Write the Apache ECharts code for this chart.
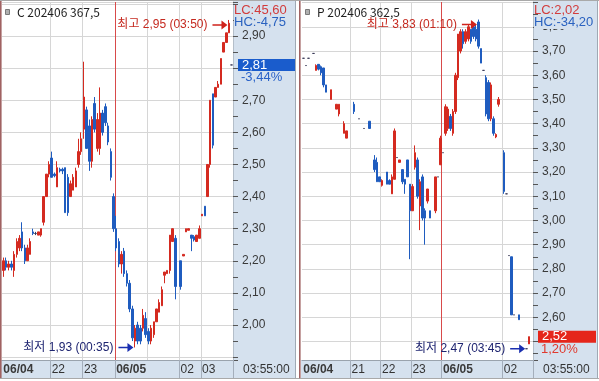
<!DOCTYPE html>
<html><head><meta charset="utf-8">
<script src="https://cdn.jsdelivr.net/npm/echarts@6/dist/echarts.min.js"></script>
<style>html,body{margin:0;padding:0;background:#fff}#c{width:599px;height:381px}</style>
</head><body><div id="c"></div>
<script>
// ---------- LEFT PANEL (C 202406 367,5) ----------
const leftTimes = ['20:30','20:35','20:40','20:45','20:50','20:55','21:00','21:05','21:10','21:15','21:20','21:25','21:30','21:35','21:40','21:45','21:50','21:55',
'22:00','22:05','22:10','22:15','22:20','22:25','22:30','22:35','22:40','22:45','22:50','22:55',
'23:00','23:05','23:10','23:15','23:20','23:25','23:30','23:35','23:40','23:45','23:50','23:55',
'00:00','00:05','00:10','00:15','00:20','00:25','00:30','00:35','00:40','00:45','00:50','00:55',
'01:00','01:05','01:10','01:15','01:20','01:25','01:30','01:35','01:40','01:45','01:50','01:55',
'02:00','02:05','02:10','02:20','02:30','02:40','02:50','02:55',
'03:00','03:05','03:10','03:15','03:20','03:25','03:30','03:35','03:40','03:45','03:50','03:55'];
const leftOpen = [2.17,2.20,2.18,2.19,2.17,2.22,2.24,2.29,2.24,2.20, 2.22,2.29,2.285,2.28,2.28,2.32,2.40,2.47,2.52,2.47, 2.43,2.485,2.485,2.49,2.46,2.40,2.42,2.43,2.50,2.54, 2.61,2.67,2.62,2.51,2.69,2.55,2.55,2.66,2.68,2.62, 2.54,2.40,2.30,2.26,2.19,2.23,2.16,2.13,2.05,1.95, 2.00,1.99,1.99,2.02,1.98,1.95,1.97,2.01,2.04,2.06, 2.155,2.16,2.17,2.26,2.27,null,2.20,2.215,2.29,2.295, 2.28,2.275,2.26,2.27,2.34,2.37,2.40,2.50,2.72,2.71, 2.74,2.75,2.85,2.88,2.91,2.81];
const leftClose = [2.20,2.18,2.19,2.18,2.22,2.26,2.27,2.24,2.20,2.24, 2.26,2.285,2.285,2.29,2.30,2.40,2.47,2.50,2.46,2.465, 2.49,2.48,2.48,2.35,2.35,2.44,2.46,2.48,2.54,2.58, 2.71,2.55,2.51,2.64,2.61,2.64,2.66,2.60,2.63,2.57, 2.46,2.30,2.24,2.19,2.22,2.16,2.13,2.05,1.96,1.99, 1.95,1.95,2.03,1.97,1.95,1.99,2.01,2.05,2.07,2.11, 2.165,2.17,2.28,2.30,2.12,null,2.12,2.22,2.30,2.30, 2.27,2.265,2.28,2.30,2.345,2.34,2.50,2.70,2.56,2.74, 2.75,2.83,2.88,2.91,2.94,2.81];
const leftLow = [2.15,2.17,2.17,2.17,2.15,2.21,2.23,2.23,2.19,2.20, 2.22,2.28,2.28,2.28,2.275,2.31,2.40,2.46,2.46,2.46, 2.43,2.475,2.47,2.35,2.34,2.40,2.42,2.43,2.49,2.53, 2.58,2.55,2.48,2.49,2.60,2.54,2.53,2.59,2.62,2.56, 2.45,2.29,2.23,2.18,2.16,2.15,2.12,2.04,1.95,1.93, 1.94,1.94,1.98,1.96,1.94,1.94,1.96,2.01,2.04,2.06, 2.13,2.16,2.16,2.26,2.08,null,2.11,2.215,2.29,2.295, 2.23,2.26,2.26,2.27,2.34,2.34,2.40,2.49,2.55,2.71, 2.74,2.75,2.85,2.88,2.91,2.81];
const leftHigh = [2.21,2.21,2.20,2.20,2.23,2.27,2.28,2.32,2.25,2.25, 2.27,2.30,2.29,2.29,2.30,2.40,2.47,2.51,2.54,2.475, 2.51,2.49,2.49,2.49,2.47,2.45,2.47,2.49,2.58,2.60, 2.82,2.68,2.64,2.65,2.71,2.66,2.74,2.67,2.69,2.63, 2.55,2.41,2.34,2.27,2.23,2.24,2.17,2.14,2.06,2.00, 2.01,2.00,2.05,2.04,1.99,2.00,2.01,2.05,2.08,2.12, 2.165,2.17,2.28,2.30,2.28,null,2.20,2.22,2.30,2.30, 2.28,2.28,2.28,2.31,2.345,2.37,2.50,2.70,2.72,2.74, 2.76,2.83,2.88,2.91,2.95,2.81];
const leftLabelTimes = ['20:30','22:00','23:00','00:00','02:00','03:00'];
const leftLabelTexts = ['06/04','22','23','06/05','02','03'];
const leftGridTimes = ['22:00','23:00','00:00','01:00','02:00','03:00'];
const leftYRange = [1.891, 3.006];
const leftYLabelRange = [2.0, 2.9];
const leftTitle = 'C 202406 367,5';
const leftLC = 'LC:45,60', leftHC = 'HC:-4,75';
const leftLast = 2.81, leftChange = -3.44;
const leftHighPt = ['03:50', 2.95], leftLowPt = ['00:35', 1.93];

// ---------- RIGHT PANEL (P 202406 362,5) ----------
const rightTimes = ['19:25','19:30','19:35','19:40','19:45','19:50','19:55','20:00','20:05','20:10','20:15','20:20','20:25','20:30','20:35','20:40','20:45','20:50','20:55',
'21:00','21:05','21:10','21:15','21:20','21:25','21:30','21:35','21:40','21:45','21:50','21:55',
'22:00','22:05','22:10','22:15','22:20','22:25','22:30','22:35','22:40','22:45','22:50','22:55',
'23:00','23:05','23:10','23:15','23:20','23:25','23:30','23:35','23:40','23:45','23:50','23:55',
'00:00','00:05','00:10','00:15','00:20','00:25','00:30','00:35','00:40','00:45','00:50','00:55',
'01:00','01:05','01:10','01:15','01:20','01:25','01:30','01:35','01:40','01:45','01:50','01:55',
'02:00','02:05','02:10','02:15','02:25','02:40','02:55','03:15','03:30','03:45','03:50','03:55'];
const rightOpen = [3.67,3.64,3.67,null,3.69,3.62,3.645,3.635,3.63,3.56, null,3.50,null,3.46,3.44,null,3.36,3.34,null,null, 3.48,null,3.42,null,3.38,null,3.41,null,3.25,3.24, 3.18,3.145,null,3.20,3.165,3.11,3.17,3.26,3.24,3.21, 3.17,3.25,3.15,3.04,3.22,3.25,3.06,3.18,3.04,3.08, 3.04,null,3.04,3.18,3.23,3.28,3.36,3.38,3.43,3.36, 3.45,3.59,3.70,3.78,3.74,3.75,3.79,3.80,3.79,3.82, 3.71,3.62,3.59,3.57,3.42,3.42,3.345,3.48,null,3.28, 3.11,2.855,2.85,2.61,null,2.61,null,null,2.47,2.49,null];
const rightClose = [3.67,3.64,3.67,null,3.69,3.64,3.625,3.61,3.56,3.53, null,3.54,null,3.48,3.48,null,3.40,3.37,null,null, 3.45,null,3.42,null,3.38,null,3.38,null,3.21,3.16, 3.16,3.165,null,3.15,3.15,3.18,3.37,3.26,3.25,3.16, 3.15,3.18,3.04,3.14,3.28,3.10,3.16,3.01,3.01,3.13, 3.01,null,3.18,3.18,3.34,3.28,3.47,3.46,3.38,3.45, 3.60,3.77,3.78,3.73,3.78,3.80,3.74,3.76,3.75,3.72, 3.65,3.62,3.44,3.42,3.56,3.36,3.355,3.50,null,3.12, 3.11,2.855,2.61,2.61,null,2.59,null,null,2.47,2.52,null];
const rightLow = [3.67,3.64,3.67,null,3.69,3.62,3.62,3.60,3.55,3.53, null,3.50,null,3.46,3.43,null,3.36,3.34,null,null, 3.44,null,3.42,null,3.38,null,3.38,null,3.20,3.16, 3.16,3.14,null,3.15,3.15,3.11,3.17,3.26,3.24,3.15, 3.11,3.18,2.84,3.04,3.21,3.09,2.96,3.00,2.90,3.07, 3.01,null,3.03,3.18,3.23,3.28,3.35,3.37,3.37,3.35, 3.44,3.58,3.69,3.71,3.73,3.74,3.73,3.75,3.74,3.71, 3.65,3.62,3.43,3.41,3.41,3.35,3.34,3.47,null,3.11, 3.11,2.855,2.61,2.61,null,2.59,null,null,2.47,2.49,null];
const rightHigh = [3.67,3.64,3.67,null,3.69,3.645,3.645,3.64,3.63,3.56, null,3.54,null,3.48,3.48,null,3.41,3.37,null,null, 3.49,null,3.42,null,3.38,null,3.41,null,3.27,3.26, 3.18,3.17,null,3.20,3.17,3.19,3.38,3.26,3.25,3.21, 3.17,3.25,3.15,3.15,3.31,3.26,3.17,3.19,3.05,3.13, 3.04,null,3.18,3.18,3.35,3.28,3.48,3.47,3.44,3.46, 3.61,3.77,3.79,3.79,3.79,3.81,3.79,3.81,3.81,3.83, 3.71,3.62,3.60,3.58,3.57,3.43,3.36,3.51,null,3.29, 3.11,2.855,2.85,2.61,null,2.61,null,null,2.47,2.52,null];
const rightLabelTimes = ['19:25','21:00','22:00','23:00','00:00','02:00'];
const rightLabelTexts = ['06/04','21','22','23','06/05','02'];
const rightGridTimes = ['21:00','22:00','23:00','00:00','02:00'];
const rightYRange = [2.4235, 3.9025];
const rightYLabelRange = [2.6, 3.8];
const rightTitle = 'P 202406 362,5';
const rightLC = 'LC:2,02', rightHC = 'HC:-34,20';
const rightLast = 2.52, rightChange = 1.20;
const rightHighPt = ['01:10', 3.83], rightLowPt = ['03:45', 2.47];
const clockText = '03:55:00';

// ---------- styling ----------
const UP = '#d42a20', DOWN = '#1f5cbf', DOJI = '#3c3c5a';
const BAND = '#d5e1ee', GRID = '#d6d6d6', DAYLINE = '#d84a4a';
const NUMFONT = '"Liberation Sans","Noto Sans CJK KR",sans-serif';
const KRFONT = '"Liberation Sans","Noto Sans CJK KR",sans-serif';
const fmt = v => v.toFixed(2).replace('.', ',');
const ARROW = 'path://M0,3.8 L9,3.8 L9,0 L15,4.5 L9,9 L9,5.2 L0,5.2 Z';

function ohlc(o, c, l, h) { return o.map((v, i) => v == null ? '-' : [v, c[i], l[i], h[i]]); }

function panel(k, times, data, labelTimes, labelTexts, gridTimes, yRange, yLabRange, last, change, hiPt, loPt) {
  const labelMap = {};
  labelTimes.forEach((t, i) => labelMap[t] = labelTexts[i]);
  const splitColors = gridTimes.map(t => t === '00:00' ? DAYLINE : GRID).concat([GRID]);
  const lastIsUp = change >= 0;
  const xAxis = {
    gridIndex: k, type: 'category', data: times, boundaryGap: true,
    axisLine: { show: true, lineStyle: { color: '#9aa3ad', width: 1 } },
    axisTick: { show: true, interval: (i, v) => (v in labelMap) && i !== 0, length: 18, lineStyle: { color: '#a4aebb' } },
    axisLabel: {
      show: true, interval: (i, v) => v in labelMap, align: 'left', margin: 4,
      fontSize: 12, fontFamily: NUMFONT, color: '#333',
      formatter: v => { const t = labelMap[v] || ''; return t.indexOf('/') > 0 ? '{d|' + t + '}' : t; },
      rich: { d: { fontWeight: 'bold', fontSize: 12, fontFamily: NUMFONT, color: '#3a3a3a' } }
    },
    splitLine: { show: true, interval: (i, v) => gridTimes.indexOf(v) >= 0, lineStyle: { color: splitColors, width: 1 } }
  };
  const yAxis = {
    gridIndex: k, type: 'value', position: 'right', min: yRange[0], max: yRange[1],
    splitNumber: 11, minInterval: 0.1, maxInterval: 0.1,
    axisLine: { show: true, lineStyle: { color: '#b4bec9' } },
    axisTick: { show: true, length: 5, lineStyle: { color: '#555' } },
    minorTick: { show: true, splitNumber: 2, length: 5, lineStyle: { color: '#555' } },
    axisLabel: {
      show: true, margin: 9, fontSize: 12, fontFamily: NUMFONT, color: '#3a3a3a',
      formatter: v => (v >= yLabRange[0] - 1e-6 && v <= yLabRange[1] + 1e-6 && Math.abs(v - last) > 0.045) ? fmt(v) : ''
    },
    splitLine: { show: true, lineStyle: { color: GRID } },
    minorSplitLine: { show: false }
  };
  const pctText = change.toFixed(2).replace('.', ',') + '%';
  const series = {
    type: 'candlestick', xAxisIndex: k, yAxisIndex: k, data: data, barWidth: 2,
    itemStyle: { color: UP, color0: DOWN, borderColor: UP, borderColor0: DOWN, borderColorDoji: DOJI, borderWidth: 1 },
    markPoint: {
      silent: true, animation: false,
      data: [
        { coord: hiPt, symbol: ARROW, symbolSize: [15, 9], symbolOffset: [-9, 5], itemStyle: { color: '#d0231b' },
          label: { show: true, position: 'left', distance: 5, formatter: '최고 ' + fmt(hiPt[1]) + ' (' + hiPt[0] + ')', color: '#c5291f', fontSize: 12, fontFamily: KRFONT } },
        { coord: loPt, symbol: ARROW, symbolSize: [15, 9], symbolOffset: [-9, 0], itemStyle: { color: '#1a2fb0' },
          label: { show: true, position: 'left', distance: 5, formatter: '최저 ' + fmt(loPt[1]) + ' (' + loPt[0] + ')', color: '#1e2470', fontSize: 12, fontFamily: KRFONT } }
      ]
    },
    markLine: {
      silent: true, animation: false, symbol: ['none', 'none'],
      lineStyle: { width: 1, color: 'rgba(0,0,0,0)', opacity: 1, type: 'solid' },
      data: [
        { yAxis: last, label: { show: true, opacity: 1, position: 'end', distance: 5,
            formatter: '{a|' + fmt(last) + '}\n{b|' + pctText + '}',
            padding: [13, 0, 0, 0],
            rich: {
              a: { color: '#fff', backgroundColor: lastIsUp ? '#e5261b' : '#1a5ccc', padding: [0, 4, 0, 4], width: 50, height: 12, lineHeight: 12, fontSize: 13, fontFamily: NUMFONT },
              b: { color: lastIsUp ? '#e0392e' : '#2a62c8', padding: [0, 0, 0, 3], height: 13, lineHeight: 13, fontSize: 13, fontFamily: NUMFONT }
            } } }
      ]
    }
  };
  return { xAxis, yAxis, series };
}

const L = panel(0, leftTimes, ohlc(leftOpen, leftClose, leftLow, leftHigh), leftLabelTimes, leftLabelTexts, leftGridTimes, leftYRange, leftYLabelRange, leftLast, leftChange, leftHighPt, leftLowPt);
const R = panel(1, rightTimes, ohlc(rightOpen, rightClose, rightLow, rightHigh), rightLabelTimes, rightLabelTexts, rightGridTimes, rightYRange, rightYLabelRange, rightLast, rightChange, rightHighPt, rightLowPt);

function deco(ox, title, lc, hc) {
  const bandW = ox === 0 ? 62 : 64;
  return [
    { type: 'rect', z: -10, silent: true, shape: { x: ox + 233, y: 1, width: bandW, height: 377 }, style: { fill: BAND } },
    { type: 'rect', z: -10, silent: true, shape: { x: ox + 1, y: 360, width: 232, height: 18 }, style: { fill: BAND } },
    { type: 'rect', z: 30, silent: true, shape: { x: ox + 5.5, y: 9.5, width: 4, height: 5 }, style: { fill: '#b0b0b0', stroke: '#7a7a7a', lineWidth: 1 } },
    { type: 'text', z: 30, silent: true, x: ox + 17, y: 12, style: { text: title, font: '12px "Noto Sans CJK KR"', fill: '#1e1e1e', verticalAlign: 'middle' } },
    { type: 'text', z: 30, silent: true, x: ox + 234, y: 10.5, style: { text: lc, font: '13px "Liberation Sans"', fill: '#d23c3c', verticalAlign: 'middle' } },
    { type: 'text', z: 30, silent: true, x: ox + 234, y: 22.5, style: { text: hc, font: '13px "Liberation Sans"', fill: '#2a62c0', verticalAlign: 'middle', backgroundColor: BAND, padding: [0, 2, 0, 0] } },
    { type: 'text', z: 30, silent: true, x: ox + 243, y: 370, style: { text: clockText, font: '12px "Liberation Sans"', fill: '#333', verticalAlign: 'middle' } },
    { type: 'rect', z: 40, silent: true, shape: { x: ox === 0 ? 0 : 299, y: 0, width: 1.6, height: 379 }, style: { fill: '#a06262' } },
    { type: 'line', z: 40, silent: true, shape: { x1: ox + 295.5 + (ox === 0 ? 0 : 2), y1: 0, x2: ox + 295.5 + (ox === 0 ? 0 : 2), y2: 379 }, style: { stroke: '#9fa9b4', lineWidth: 1 } }
  ];
}

const chart = echarts.init(document.getElementById('c'), null, { renderer: 'canvas' });
chart.setOption({
  animation: false,
  backgroundColor: '#ffffff',
  grid: [
    { left: 2, top: 2, width: 231, height: 358, containLabel: false, outerBoundsMode: 'none' },
    { left: 302, top: 2, width: 231, height: 358, containLabel: false, outerBoundsMode: 'none' }
  ],
  xAxis: [L.xAxis, R.xAxis],
  yAxis: [L.yAxis, R.yAxis],
  series: [L.series, R.series],
  graphic: { elements: deco(0, leftTitle, leftLC, leftHC).concat(deco(300, rightTitle, rightLC, rightHC)).concat([
    { type: 'line', z: 40, silent: true, shape: { x1: 0, y1: 0.5, x2: 599, y2: 0.5 }, style: { stroke: '#a9a9a9', lineWidth: 1 } },
    { type: 'line', z: 40, silent: true, shape: { x1: 0, y1: 378.5, x2: 599, y2: 378.5 }, style: { stroke: '#a9a9a9', lineWidth: 1 } }
  ]) }
});
</script></body></html>
